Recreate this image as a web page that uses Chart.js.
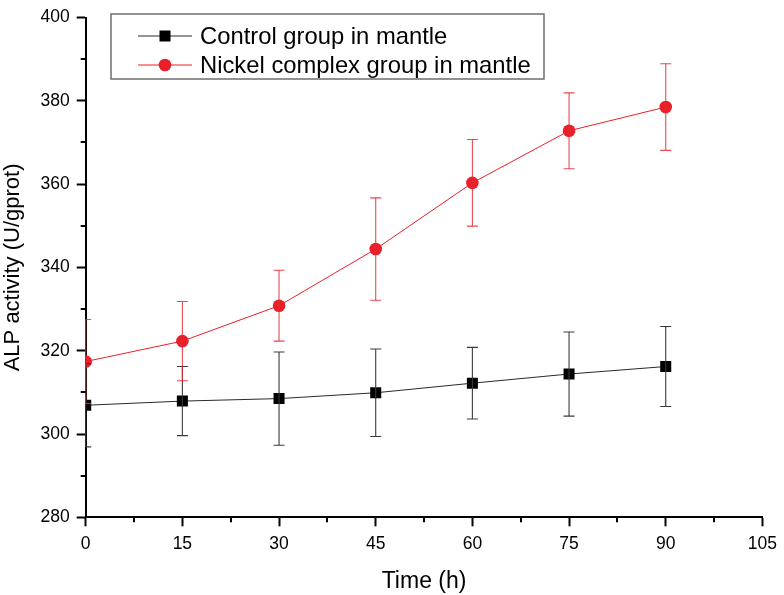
<!DOCTYPE html>
<html>
<head>
<meta charset="utf-8">
<script src="https://cdn.jsdelivr.net/npm/chart.js@4.4.1/dist/chart.umd.min.js"></script>
<style>
  html, body { margin: 0; padding: 0; background: #ffffff; }
  #wrap { width: 784px; height: 595px; position: relative; }
</style>
</head>
<body>
<div id="wrap"><canvas id="c" width="784" height="595"></canvas></div>
<script>
// ---- Data ----
const timeHours = [0, 15, 30, 45, 60, 75, 90];
const controlValues = [306.9, 307.9, 308.5, 309.9, 312.2, 314.4, 316.2];
const controlErrors = [10.0, 8.3, 11.2, 10.5, 8.6, 10.1, 9.6];
const nickelValues = [317.4, 322.3, 330.8, 344.4, 360.3, 372.8, 378.5];
const nickelErrors = [10.1, 9.5, 8.5, 12.3, 10.4, 9.1, 10.4];
const seriesLabels = ['Control group in mantle', 'Nickel complex group in mantle'];
const xTickValues = [0, 15, 30, 45, 60, 75, 90, 105];
const yTickValues = [280, 300, 320, 340, 360, 380, 400];

const FONT = '"Liberation Sans", Arial, Helvetica, sans-serif';
const RED = '#e8202a';
const RED_ERR = 'rgba(232,40,48,0.85)';
const BLACK = '#000000';

function toPoints(xs, ys) { return xs.map((x, i) => ({ x: x, y: ys[i] })); }

// Error bars drawn through the chart scales
const errorBarPlugin = {
  id: 'errorBars',
  afterDatasetsDraw(chart) {
    const ctx = chart.ctx;
    const xs = chart.scales.x, ys = chart.scales.y;
    const area = chart.chartArea;
    ctx.save();
    ctx.beginPath();
    ctx.rect(area.left - 1.5, area.top - 10, area.right - area.left + 12, area.bottom - area.top + 20);
    ctx.clip();
    chart.data.datasets.forEach((ds) => {
      const errs = ds.errors;
      if (!errs) return;
      ctx.strokeStyle = ds.errorColor;
      ctx.lineWidth = 1.1;
      ds.data.forEach((p, i) => {
        const px = xs.getPixelForValue(p.x);
        const yTop = ys.getPixelForValue(p.y + errs[i]);
        const yBot = ys.getPixelForValue(p.y - errs[i]);
        const cap = 5.5;
        ctx.beginPath();
        ctx.moveTo(px, yTop); ctx.lineTo(px, yBot);
        ctx.stroke();
        ctx.save();
        ctx.beginPath();
        ctx.rect(area.left, area.top - 10, area.right - area.left + 12, area.bottom - area.top + 20);
        ctx.clip();
        ctx.beginPath();
        ctx.moveTo(px - cap, yTop); ctx.lineTo(px + cap, yTop);
        ctx.moveTo(px - cap, yBot); ctx.lineTo(px + cap, yBot);
        ctx.stroke();
        ctx.restore();
      });
    });
    ctx.restore();
  }
};

// Minor ticks between the major ones
const minorTickPlugin = {
  id: 'minorTicks',
  afterDraw(chart) {
    const ctx = chart.ctx;
    const xs = chart.scales.x, ys = chart.scales.y;
    const area = chart.chartArea;
    ctx.save();
    ctx.strokeStyle = '#000';
    ctx.lineWidth = 2;
    ctx.beginPath();
    for (let i = 0; i < xTickValues.length - 1; i++) {
      const v = (xTickValues[i] + xTickValues[i + 1]) / 2;
      const px = Math.round(xs.getPixelForValue(v));
      ctx.moveTo(px, area.bottom); ctx.lineTo(px, area.bottom + 5);
    }
    for (let i = 0; i < yTickValues.length - 1; i++) {
      const v = (yTickValues[i] + yTickValues[i + 1]) / 2;
      const py = Math.round(ys.getPixelForValue(v));
      ctx.moveTo(area.left, py); ctx.lineTo(area.left - 5, py);
    }
    ctx.stroke();
    ctx.restore();
  }
};

// Boxed legend like the reference
const boxLegendPlugin = {
  id: 'boxLegend',
  afterDraw(chart) {
    const ctx = chart.ctx;
    const bx = 111, by = 14, bw = 433, bh = 65;
    ctx.save();
    ctx.strokeStyle = '#6e6e6e';
    ctx.lineWidth = 1.5;
    ctx.strokeRect(bx, by, bw, bh);
    ctx.font = '23.8px ' + FONT;
    ctx.textBaseline = 'middle';
    ctx.textAlign = 'left';
    chart.data.datasets.forEach((ds, i) => {
      const cy = by + 22 + i * 29;
      ctx.strokeStyle = ds.borderColor;
      ctx.lineWidth = 1;
      ctx.beginPath();
      ctx.moveTo(138, cy); ctx.lineTo(192, cy);
      ctx.stroke();
      ctx.fillStyle = ds.pointBackgroundColor;
      if (ds.pointStyle === 'rect') {
        ctx.fillRect(165 - 5.5, cy - 5.5, 11, 11);
      } else {
        ctx.beginPath();
        ctx.arc(165, cy, 6.3, 0, Math.PI * 2);
        ctx.fill();
      }
      ctx.fillStyle = '#000';
      ctx.fillText(ds.label, 200, cy + 1);
    });
    ctx.restore();
  }
};

new Chart(document.getElementById('c'), {
  type: 'line',
  data: {
    datasets: [
      {
        label: seriesLabels[0],
        data: toPoints(timeHours, controlValues),
        errors: controlErrors,
        errorColor: '#3a3a3a',
        borderColor: '#2a2a2a',
        borderWidth: 1,
        pointStyle: 'rect',
        pointRadius: 7.8,
        pointBackgroundColor: BLACK,
        pointBorderColor: BLACK,
        pointBorderWidth: 0,
        tension: 0
      },
      {
        label: seriesLabels[1],
        data: toPoints(timeHours, nickelValues),
        errors: nickelErrors,
        errorColor: RED_ERR,
        borderColor: RED,
        borderWidth: 1,
        pointStyle: 'circle',
        pointRadius: 6.3,
        pointBackgroundColor: RED,
        pointBorderColor: RED,
        pointBorderWidth: 0,
        tension: 0
      }
    ]
  },
  options: {
    responsive: false,
    animation: false,
    devicePixelRatio: 1,
    layout: { padding: { top: 10.7, right: 20, bottom: 0, left: 0 } },
    plugins: {
      legend: { display: false },
      tooltip: { enabled: false }
    },
    scales: {
      x: {
        type: 'linear',
        min: 0, max: 105,
        afterBuildTicks: s => { s.ticks = xTickValues.map(v => ({ value: v })); },
        afterFit: s => { s.height = 77.7; },
        grid: { display: true, drawOnChartArea: false, drawTicks: true, tickLength: 9, tickWidth: 2, tickColor: '#000' },
        border: { display: true, color: '#000', width: 2 },
        ticks: { color: '#000', font: { family: FONT, size: 17.5 }, padding: 7, maxRotation: 0 },
        title: { display: true, text: 'Time (h)', color: '#000', font: { family: FONT, size: 23 }, padding: { top: 0, bottom: 0 } }
      },
      y: {
        type: 'linear',
        min: 280, max: 400,
        afterBuildTicks: s => { s.ticks = yTickValues.map(v => ({ value: v })); },
        afterFit: s => { s.width = 85.7; },
        grid: { display: true, drawOnChartArea: false, drawTicks: true, tickLength: 9, tickWidth: 2, tickColor: '#000' },
        border: { display: true, color: '#000', width: 2 },
        ticks: { color: '#000', font: { family: FONT, size: 17.5 }, padding: 7 },
        title: { display: true, text: 'ALP activity (U/gprot)', color: '#000', font: { family: FONT, size: 22 }, padding: { top: 0, bottom: 0 } }
      }
    }
  },
  plugins: [errorBarPlugin, minorTickPlugin, boxLegendPlugin]
});
</script>
</body>
</html>
